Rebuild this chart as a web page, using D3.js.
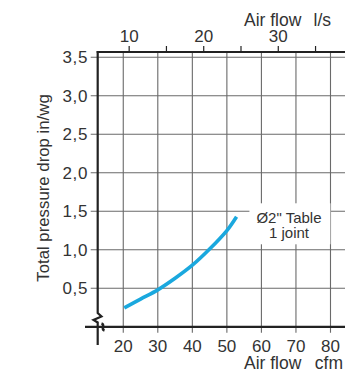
<!DOCTYPE html>
<html>
<head>
<meta charset="utf-8">
<script src="https://cdn.jsdelivr.net/npm/d3@7/dist/d3.min.js"></script>
<style>
  body { margin: 0; background: #fff; }
  text { font-family: "Liberation Sans", Arial, sans-serif; fill: #333; }
</style>
</head>
<body>
<div id="chart"></div>
<script>
// Data
var cfmTicks = [20, 30, 40, 50, 60, 70, 80];
var lsTicks = [10, 15, 20, 25, 30, 35];
var lsLabels = [10, 20, 30];
var pTicks = [0.5, 1.0, 1.5, 2.0, 2.5, 3.0, 3.5];
var curveCfm = [20.3, 25, 30, 35, 40, 45, 50, 52.8];
var curveP = [0.245, 0.36, 0.48, 0.63, 0.80, 1.01, 1.25, 1.43];
var seriesLabel = ["\u00d82\" Table", "1 joint"];

var W = 357, H = 375;

var svg = d3.select("#chart").append("svg")
    .attr("width", W)
    .attr("height", H);

// Scales
var x = d3.scaleLinear().domain([12.6, 84.2]).range([97.7, 345]);
var xLs = d3.scaleLinear().domain([5.78, 38.95]).range([97.7, 345]);
var y = d3.scaleLinear().domain([0, 3.5]).range([326.8, 57.3]);

var plotLeft = x.range()[0], plotRight = x.range()[1];
var plotTop = 52, plotBottom = y(0);

// Grid
var grid = svg.append("g").attr("stroke", "#6a6a6a").attr("stroke-width", 1.1);
grid.selectAll(".vg").data(cfmTicks).enter().append("line")
    .attr("x1", d => x(d)).attr("x2", d => x(d))
    .attr("y1", plotTop).attr("y2", plotBottom + 6);
grid.selectAll(".hg").data(pTicks).enter().append("line")
    .attr("x1", plotLeft - 7).attr("x2", plotRight)
    .attr("y1", d => y(d)).attr("y2", d => y(d));

// Curve
var line = d3.line()
    .x(function(d, i) { return x(curveCfm[i]); })
    .y(function(d) { return y(d); })
    .curve(d3.curveCatmullRom);

svg.append("path")
    .datum(curveP)
    .attr("d", line)
    .attr("fill", "none")
    .attr("stroke", "#1aa8de")
    .attr("stroke-width", 3.6)
    .attr("stroke-linecap", "butt");

// Series label with white box
var lab = svg.append("g");
lab.append("rect")
    .attr("x", x(60) - 12).attr("y", y(1.5) - 8)
    .attr("width", 81).attr("height", 41)
    .attr("fill", "#fff");
lab.selectAll("text").data(seriesLabel).enter().append("text")
    .attr("x", 289)
    .attr("y", (d, i) => 222.5 + i * 15)
    .attr("text-anchor", "middle")
    .style("font-size", "15px")
    .text(d => d);

// Axes
var ax = svg.append("g").attr("stroke", "#222").attr("fill", "none");
// top axis
ax.append("line").attr("x1", plotLeft - 1).attr("x2", plotRight)
    .attr("y1", plotTop).attr("y2", plotTop).attr("stroke-width", 2.2);
ax.selectAll(".tt").data(lsTicks).enter().append("line")
    .attr("x1", d => xLs(d)).attr("x2", d => xLs(d))
    .attr("y1", plotTop - 6).attr("y2", plotTop).attr("stroke-width", 1.2);
// bottom axis
ax.append("line").attr("x1", 85).attr("x2", plotRight)
    .attr("y1", plotBottom).attr("y2", plotBottom).attr("stroke-width", 2.2);
// left axis with break
ax.append("path")
    .attr("d", "M" + plotLeft + "," + (plotTop - 1) + "V313 L101.5,316.5 L93.5,320 L97.7,322.5 V345")
    .attr("stroke-width", 2.2);
// bottom axis break mark
ax.append("path")
    .attr("d", "M101.5,323.5 C106,325 100,329 104.5,330.5")
    .attr("stroke-width", 2.4);

// Tick labels
svg.selectAll(".yl").data(pTicks).enter().append("text")
    .attr("x", 88)
    .attr("y", d => y(d) + 6)
    .attr("text-anchor", "end")
    .style("font-size", "17px")
    .style("letter-spacing", "0.6px")
    .text(d => d3.format(".1f")(d).replace(".", ","));

svg.selectAll(".xl").data(cfmTicks).enter().append("text")
    .attr("x", d => x(d))
    .attr("y", 352)
    .attr("text-anchor", "middle")
    .style("font-size", "17px")
    .text(d => d);

svg.selectAll(".tl").data(lsLabels).enter().append("text")
    .attr("x", d => xLs(d))
    .attr("y", 42)
    .attr("text-anchor", "middle")
    .style("font-size", "17px")
    .text(d => d);

// Axis titles
svg.append("text").attr("x", 244).attr("y", 26).style("font-size", "17.5px").text("Air flow");
svg.append("text").attr("x", 331).attr("y", 26).attr("text-anchor", "end").style("font-size", "17.5px").text("l/s");
svg.append("text").attr("x", 244).attr("y", 368.5).style("font-size", "17.5px").text("Air flow");
svg.append("text").attr("x", 343).attr("y", 368.5).attr("text-anchor", "end").style("font-size", "17.5px").text("cfm");

svg.append("text")
    .attr("transform", "translate(48.5,188) rotate(-90)")
    .attr("text-anchor", "middle")
    .style("font-size", "16.8px")
    .text("Total pressure drop in/wg");
</script>
</body>
</html>
